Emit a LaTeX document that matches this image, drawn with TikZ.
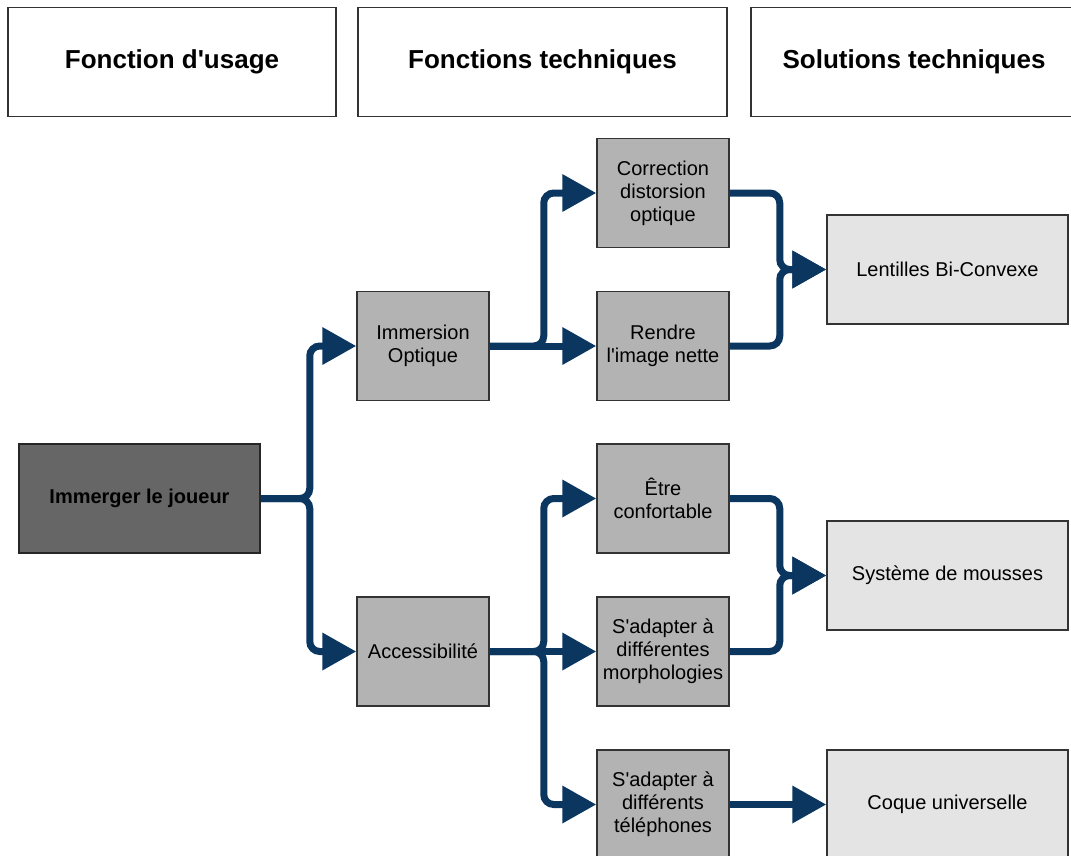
\documentclass[tikz,border=0pt]{standalone}
\usepackage{fontspec}
\setmainfont{Liberation Sans}
\usetikzlibrary{arrows.meta}
\definecolor{connc}{RGB}{10,54,96}
\definecolor{bordc}{RGB}{51,51,51}
\definecolor{darkfill}{RGB}{102,102,102}
\definecolor{midfill}{RGB}{179,179,179}
\definecolor{lightfill}{RGB}{228,228,228}
\tikzset{
  headbox/.style={draw=bordc, line width=1.5pt, fill=white, minimum height=109pt,
    font=\fontsize{26}{30}\selectfont\bfseries, inner sep=0pt},
  rootbox/.style={draw=black!85, line width=1.5pt, fill=darkfill, minimum width=241pt,
    minimum height=109pt, font=\fontsize{20}{23}\selectfont\bfseries, inner sep=0pt},
  midbox/.style={draw=bordc, line width=1.5pt, fill=midfill, minimum width=132pt,
    minimum height=109pt, font=\fontsize{20}{23}\selectfont, align=center, inner sep=0pt},
  solbox/.style={draw=bordc, line width=1.5pt, fill=lightfill, minimum width=241pt,
    minimum height=109pt, font=\fontsize{20}{23}\selectfont, align=center, inner sep=0pt},
  conn/.style={draw=connc, line width=7pt, rounded corners=10pt,
    -{Triangle[length=34pt,width=36pt]}, fill=none},
}
\begin{document}
\begin{tikzpicture}[x=1pt,y=-1pt]
\useasboundingbox (0,0) rectangle (1071,855);
\clip (0,0) rectangle (1071,855);
% headers
\node[headbox, minimum width=328pt] (h1) at (172,62) {Fonction d\textquotesingle usage};
\node[headbox, minimum width=369pt] (h2) at (542.5,62) {Fonctions techniques};
\node[headbox, minimum width=326pt] (h3) at (914,62) {Solutions techniques};
% root
\node[rootbox] (root) at (139.5,498.5) {Immerger le joueur};
% middle column
\node[midbox] (immersion) at (423,346) {Immersion\\Optique};
\node[midbox] (access) at (423,651.5) {Accessibilité};
% third column
\node[midbox] (correction) at (663,193) {Correction\\distorsion\\optique};
\node[midbox] (rendre) at (663,346) {Rendre\\l\textquotesingle image nette};
\node[midbox] (etre) at (663,498.5) {Être\\confortable};
\node[midbox] (morph) at (663,651.5) {S\textquotesingle adapter à\\différentes\\morphologies};
\node[midbox] (tel) at (663,804.5) {S\textquotesingle adapter à\\différents\\téléphones};
% solutions
\node[solbox] (lentilles) at (947.5,269.5) {Lentilles Bi-Convexe};
\node[solbox] (mousses) at (947.5,575.5) {Système de mousses};
\node[solbox] (coque) at (947.5,804.5) {Coque universelle};
% connectors
\draw[conn] (root.east) -- ++(49,0) |- (immersion.west);
\draw[conn] (root.east) -- ++(49,0) |- (access.west);
\draw[conn] (immersion.east) -- ++(54,0) |- (correction.west);
\draw[conn] (immersion.east) -- (rendre.west);
\draw[conn] (access.east) -- ++(54,0) |- (etre.west);
\draw[conn] (access.east) -- (morph.west);
\draw[conn] (access.east) -- ++(54,0) |- (tel.west);
\draw[conn] (correction.east) -- ++(50,0) |- (lentilles.west);
\draw[conn] (rendre.east) -- ++(50,0) |- (lentilles.west);
\draw[conn] (etre.east) -- ++(50,0) |- (mousses.west);
\draw[conn] (morph.east) -- ++(50,0) |- (mousses.west);
\draw[conn] (tel.east) -- (coque.west);
\end{tikzpicture}
\end{document}
